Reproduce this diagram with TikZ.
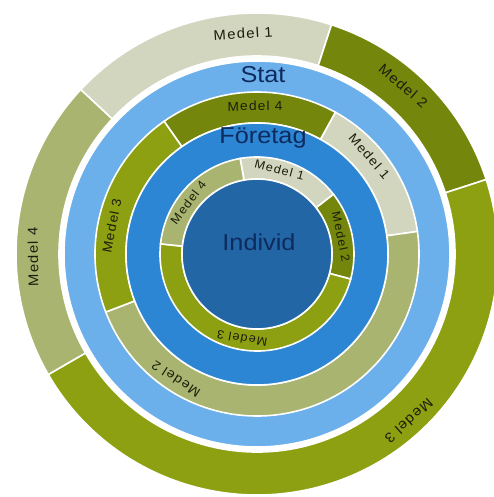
\documentclass[tikz,border=0pt]{standalone}
\usepackage{fontspec}
\setmainfont{Liberation Sans}
\newfontfamily\medelfont[FakeStretch=1.06, LetterSpace=9]{Liberation Sans}
\newfontfamily\levelfont[FakeStretch=1.1]{Liberation Sans}
\definecolor{cindivid}{HTML}{2266A6}
\definecolor{cforetag}{HTML}{2C86D4}
\definecolor{cstat}{HTML}{6BB0EA}
\definecolor{cdark}{HTML}{74870C}
\definecolor{colive}{HTML}{8CA012}
\definecolor{csage}{HTML}{A9B470}
\definecolor{clight}{HTML}{D3D6BE}
\definecolor{cnavy}{HTML}{0D2B5E}
\definecolor{ctext}{HTML}{1C1E0C}
\tikzset{
  every picture/.style={line width=1.6pt},
  seg/.style={fill=#1, draw=white, line width=1.6pt},
  medel/.style={font=\medelfont\fontsize{#1}{#1}\selectfont, text=ctext, inner sep=0pt},
  medel/.default=14,
  level/.style={font=\levelfont\fontsize{23}{23}\selectfont, text=cnavy, inner sep=0pt},
}
% inner radius, outer radius, start angle, end angle, colour
\newcommand{\annseg}[5]{%
  \filldraw[seg=#5] (#3:#1) arc[start angle=#3, end angle=#4, radius=#1]
    -- (#4:#2) arc[start angle=#4, end angle=#3, radius=#2] -- cycle;}

\begin{document}
\begin{tikzpicture}[x=1pt, y=1pt]
  \useasboundingbox (-257,-243) rectangle (237,254);
  % outer ring
  \annseg{198}{241}{72}{137}{clight}
  \annseg{198}{241}{18}{72}{cdark}
  \annseg{198}{241}{-150}{18}{colive}
  \annseg{198}{241}{137}{210}{csage}
  % Stat
  \filldraw[seg=cstat] (0,0) circle[radius=193];
  % middle ring
  \annseg{131}{162}{61}{125}{cdark}
  \annseg{131}{162}{8}{61}{clight}
  \annseg{131}{162}{-159}{8}{csage}
  \annseg{131}{162}{125}{201}{colive}
  % Foretag
  \filldraw[seg=cforetag] (0,0) circle[radius=131];
  % inner ring
  \annseg{75}{97}{38}{100}{clight}
  \annseg{75}{97}{-15}{38}{cdark}
  \annseg{75}{97}{174}{345}{colive}
  \annseg{75}{97}{100}{174}{csage}
  % Individ
  \filldraw[seg=cindivid] (0,0) circle[radius=75];

  \node[medel, rotate=3.6] (o1) at (93.6:221) {Medel 1};
  \node[medel, rotate=-41] (o2) at (49:223) {Medel 2};
  \node[medel, rotate=-137.7] (o3) at (-47.7:226) {Medel 3};
  \node[medel, rotate=90.8] (o4) at (180.8:224) {Medel 4};
  \node[medel=13, rotate=-49] (m1) at (41:149) {Medel 1};
  \node[medel=13, rotate=147] (m2) at (237:149) {Medel 2};
  \node[medel=13, rotate=79] (m3) at (169:148) {Medel 3};
  \node[medel=13, rotate=0.8] (m4) at (90.8:148) {Medel 4};
  \node[medel=12, rotate=-15] (i1) at (75:87) {Medel 1};
  \node[medel=12, rotate=-78.4] (i2) at (11.6:86) {Medel 2};
  \node[medel=12, rotate=170] (i3) at (260:86) {Medel 3};
  \node[medel=12, rotate=53] (i4) at (143:86) {Medel 4};

  \node[level] (stat) at (6,179) {Stat};
  \node[level] (foretag) at (6,116) {Företag};
  \node[level] (individ) at (2,12) {Individ};
\end{tikzpicture}
\end{document}
